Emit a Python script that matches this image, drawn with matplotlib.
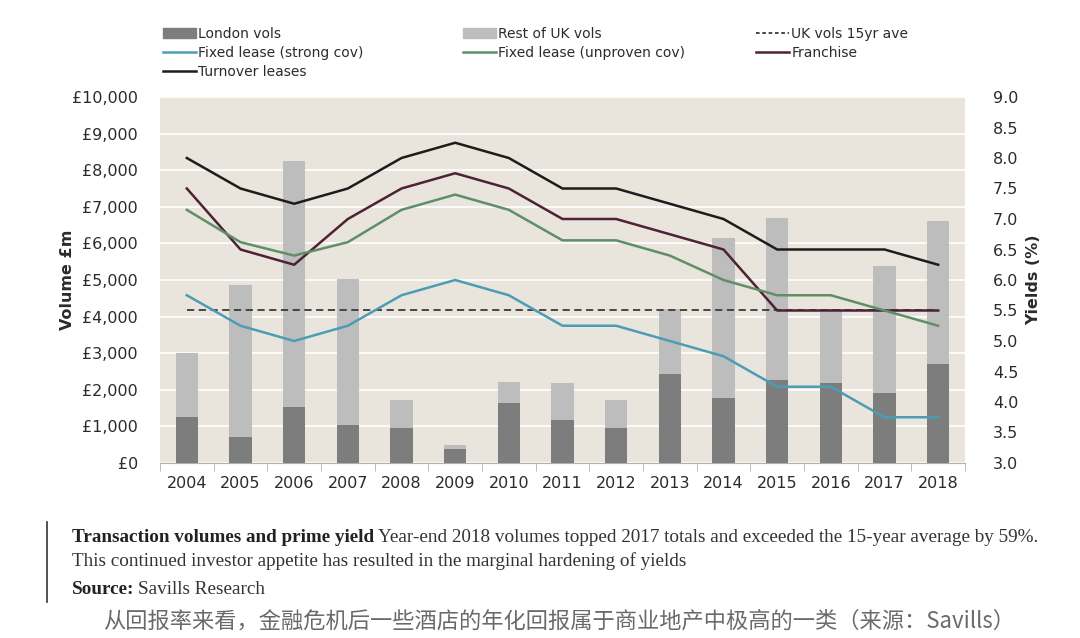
import matplotlib
matplotlib.use("Agg")
import matplotlib.pyplot as plt
import numpy as np
from matplotlib.lines import Line2D
from matplotlib.patches import Patch

# data
years = ["2004", "2005", "2006", "2007", "2008", "2009", "2010", "2011",
         "2012", "2013", "2014", "2015", "2016", "2017", "2018"]
london_vols = [1250, 700, 1520, 1050, 950, 380, 1650, 1170, 950, 2420, 1780, 2280, 2180, 1920, 2700]
total_vols = [3000, 4850, 8250, 5030, 1730, 480, 2200, 2180, 1730, 4200, 6150, 6700, 4200, 5380, 6620]
rest_vols = [t - l for t, l in zip(total_vols, london_vols)]
uk_15yr_ave = 4170

fixed_strong = [5.75, 5.25, 5.0, 5.25, 5.75, 6.0, 5.75, 5.25, 5.25, 5.0, 4.75, 4.25, 4.25, 3.75, 3.75]
fixed_unproven = [7.15, 6.62, 6.4, 6.62, 7.15, 7.4, 7.15, 6.65, 6.65, 6.4, 6.0, 5.75, 5.75, 5.5, 5.25]
franchise = [7.5, 6.5, 6.25, 7.0, 7.5, 7.75, 7.5, 7.0, 7.0, 6.75, 6.5, 5.5, 5.5, 5.5, 5.5]
turnover = [8.0, 7.5, 7.25, 7.5, 8.0, 8.25, 8.0, 7.5, 7.5, 7.25, 7.0, 6.5, 6.5, 6.5, 6.25]

c_london = "#7d7d7d"
c_rest = "#bdbdbd"
c_strong = "#4b9db5"
c_unproven = "#5f8f68"
c_franchise = "#4d2236"
c_turnover = "#1c1c1c"
c_text = "#2b2b2b"

plt.rcParams['font.family'] = ['DejaVu Sans']

fig = plt.figure(figsize=(10.8, 6.38), dpi=100)
ax = fig.add_axes([160 / 1080, 1 - 463 / 638, (965 - 160) / 1080, (463 - 97) / 638])
ax.set_facecolor("#e9e5dc")

x = np.arange(len(years))
w = 0.42
ax.bar(x, london_vols, w, color=c_london, zorder=3)
ax.bar(x, rest_vols, w, bottom=london_vols, color=c_rest, zorder=3)

ax.set_xlim(-0.45, 14.5)
ax.set_ylim(0, 10000)
ax.set_yticks(range(0, 10001, 1000))
ax.set_yticklabels(["£{:,}".format(v) for v in range(0, 10001, 1000)])
ax.yaxis.grid(True, color="white", linewidth=1.2, zorder=0)
ax.set_axisbelow(True)
ax.set_xticks(x)
ax.set_xticklabels(years)
ax.set_xticks(np.arange(-0.5, 14.6, 1), minor=True)
ax.tick_params(axis="x", which="major", length=0, labelsize=11.5, colors=c_text, pad=9)
ax.tick_params(axis="x", which="minor", length=6, color="#b0b0b0")
ax.tick_params(axis="y", length=0, labelsize=11.5, colors=c_text, pad=16)
for s in ["top", "right", "left"]:
    ax.spines[s].set_visible(False)
ax.spines["bottom"].set_color("#b0b0b0")
ax.set_ylabel("Volume £m", fontsize=11.5, fontweight="bold", color=c_text, labelpad=-2)

ax2 = ax.twinx()
ax2.set_ylim(3.0, 9.0)
ax2.set_yticks(np.arange(3.0, 9.01, 0.5))
ax2.set_yticklabels(["{:.1f}".format(v) for v in np.arange(3.0, 9.01, 0.5)])
ax2.tick_params(axis="y", length=0, labelsize=11.5, colors=c_text, pad=20)
for s in ["top", "right", "left", "bottom"]:
    ax2.spines[s].set_visible(False)
ax2.set_ylabel("Yields (%)", fontsize=11.5, fontweight="bold", color=c_text, labelpad=6)

ax2.plot(x, turnover, color=c_turnover, lw=1.8, zorder=4)
ax2.plot(x, franchise, color=c_franchise, lw=1.8, zorder=4)
ax2.plot(x, fixed_unproven, color=c_unproven, lw=1.8, zorder=4)
ax2.plot(x, fixed_strong, color=c_strong, lw=1.8, zorder=4)
ax.plot([x[0], x[-1]], [uk_15yr_ave, uk_15yr_ave], color="#3a3a3a", lw=1.3,
        ls=(0, (4, 2.5)), zorder=5)

# legend, three separate columns
columns = [
    (163, [Patch(color=c_london, label="London vols"),
           Line2D([], [], color=c_strong, lw=1.8, label="Fixed lease (strong cov)"),
           Line2D([], [], color=c_turnover, lw=1.8, label="Turnover leases")]),
    (463, [Patch(color=c_rest, label="Rest of UK vols"),
           Line2D([], [], color=c_unproven, lw=1.8, label="Fixed lease (unproven cov)")]),
    (756, [Line2D([], [], color="#3a3a3a", lw=1.3, ls=(0, (2, 1.5)), label="UK vols 15yr ave"),
           Line2D([], [], color=c_franchise, lw=1.8, label="Franchise")]),
]
for xpos, hs in columns:
    fig.legend(handles=hs, loc="upper left", bbox_to_anchor=(xpos / 1080, 1 - 27 / 638),
               frameon=False, fontsize=10, handlelength=2.4, handletextpad=0.15,
               labelspacing=0.35, borderaxespad=0, borderpad=0, labelcolor=c_text)

# caption
fig.add_artist(Line2D([47 / 1080, 47 / 1080], [1 - 602 / 638, 1 - 522 / 638],
                      color="#333333", lw=1.2))
serif = "Liberation Serif"
fs = 13.8
t1 = fig.text(72 / 1080, 1 - 537 / 638, "Transaction volumes and prime yield", fontsize=fs,
              family=serif, fontweight="bold", color="#222222", va="center")
fig.canvas.draw()
bb = t1.get_window_extent()
fig.text(bb.x1 / 1080 + 4 / 1080, 1 - 537 / 638,
         "Year-end 2018 volumes topped 2017 totals and exceeded the 15-year average by 59%.",
         fontsize=fs, family=serif, color="#333333", va="center")
fig.text(72 / 1080, 1 - 561 / 638,
         "This continued investor appetite has resulted in the marginal hardening of yields",
         fontsize=fs, family=serif, color="#333333", va="center")
t2 = fig.text(72 / 1080, 1 - 589 / 638, "Source:", fontsize=fs, family=serif,
              fontweight="bold", color="#222222", va="center")
fig.canvas.draw()
bb = t2.get_window_extent()
fig.text(bb.x1 / 1080 + 4 / 1080, 1 - 589 / 638, "Savills Research", fontsize=fs,
         family=serif, color="#333333", va="center")
fig.text(559 / 1080, 1 - 621 / 638,
         "从回报率来看，金融危机后一些酒店的年化回报属于商业地产中极高的一类（来源：Savills）",
         fontsize=16, family=["Noto Sans CJK SC", "DejaVu Sans"], fontweight="light",
         color="#6a6a6a", ha="center", va="center")

fig.savefig("out.png", dpi=100, facecolor="white")
